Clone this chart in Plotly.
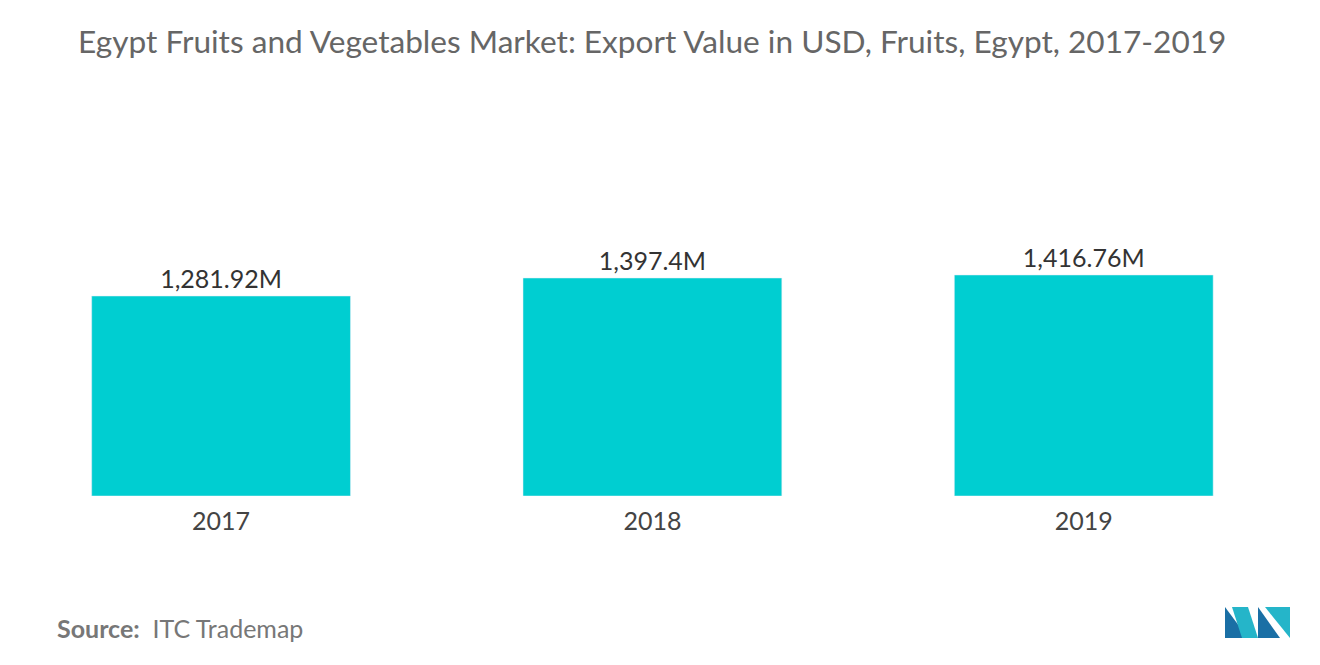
import plotly.graph_objects as go

years = ["2017", "2018", "2019"]
values = [1281.92, 1397.4, 1416.76]
labels = ["1,281.92M", "1,397.4M", "1,416.76M"]

OX, OY = 8, 8
H = 665
L, R, T, B = 0, 26, 142, 177
PW = 1320 - L - R
PH = H - T - B

fig = go.Figure(go.Bar(
    x=years, y=values, text=labels, textposition="outside",
    marker_color="#00CED1", textfont=dict(size=25, color="#333", family="Lato"),
    cliponaxis=False,
))
fig.update_layout(
    width=1320, height=H,
    margin=dict(l=L, r=R, t=T, b=B),
    plot_bgcolor="white", paper_bgcolor="white",
    bargap=0.4, showlegend=False,
    font=dict(family="Lato"),
    title=dict(text="Egypt Fruits and Vegetables Market: Export Value in USD, Fruits, Egypt, 2017-2019",
               x=(78 - OX) / 1320, xanchor="left", y=1 - (42 - OY) / H, yanchor="middle",
               font=dict(size=31.6, color="#666", family="Lato")),
    xaxis=dict(showline=False, showgrid=False, ticks="", tickfont=dict(size=25, color="#444"),
               ticklabelstandoff=8, range=[-0.494, 2.506]),
    yaxis=dict(visible=False, range=[0, 2218]),
)

def to_paper(x, y):
    return (x - OX - L) / PW, (H - B - (y - OY)) / PH

sx, sy = to_paper(55, 628)
fig.add_annotation(xref="paper", yref="paper", x=sx, y=sy,
                   xanchor="left", yanchor="middle", showarrow=False,
                   text="<b>Source:</b>  ITC Trademap", font=dict(size=25, color="#777", family="Lato"))
for pts, col in [
    ([(1225, 638), (1225, 607), (1248, 638)], "#1a6fa5"),
    ([(1232, 607), (1248, 607), (1258, 638), (1242, 638)], "#25b5c9"),
    ([(1258, 638), (1258, 607), (1280, 638)], "#1a6fa5"),
    ([(1265, 607), (1290, 607), (1290, 638)], "#25b5c9"),
]:
    path = "M " + " L ".join("%.5f %.5f" % to_paper(x, y) for x, y in pts) + " Z"
    fig.add_shape(type="path", xref="paper", yref="paper", path=path, fillcolor=col, line_width=0)
fig.write_html("out.html")
